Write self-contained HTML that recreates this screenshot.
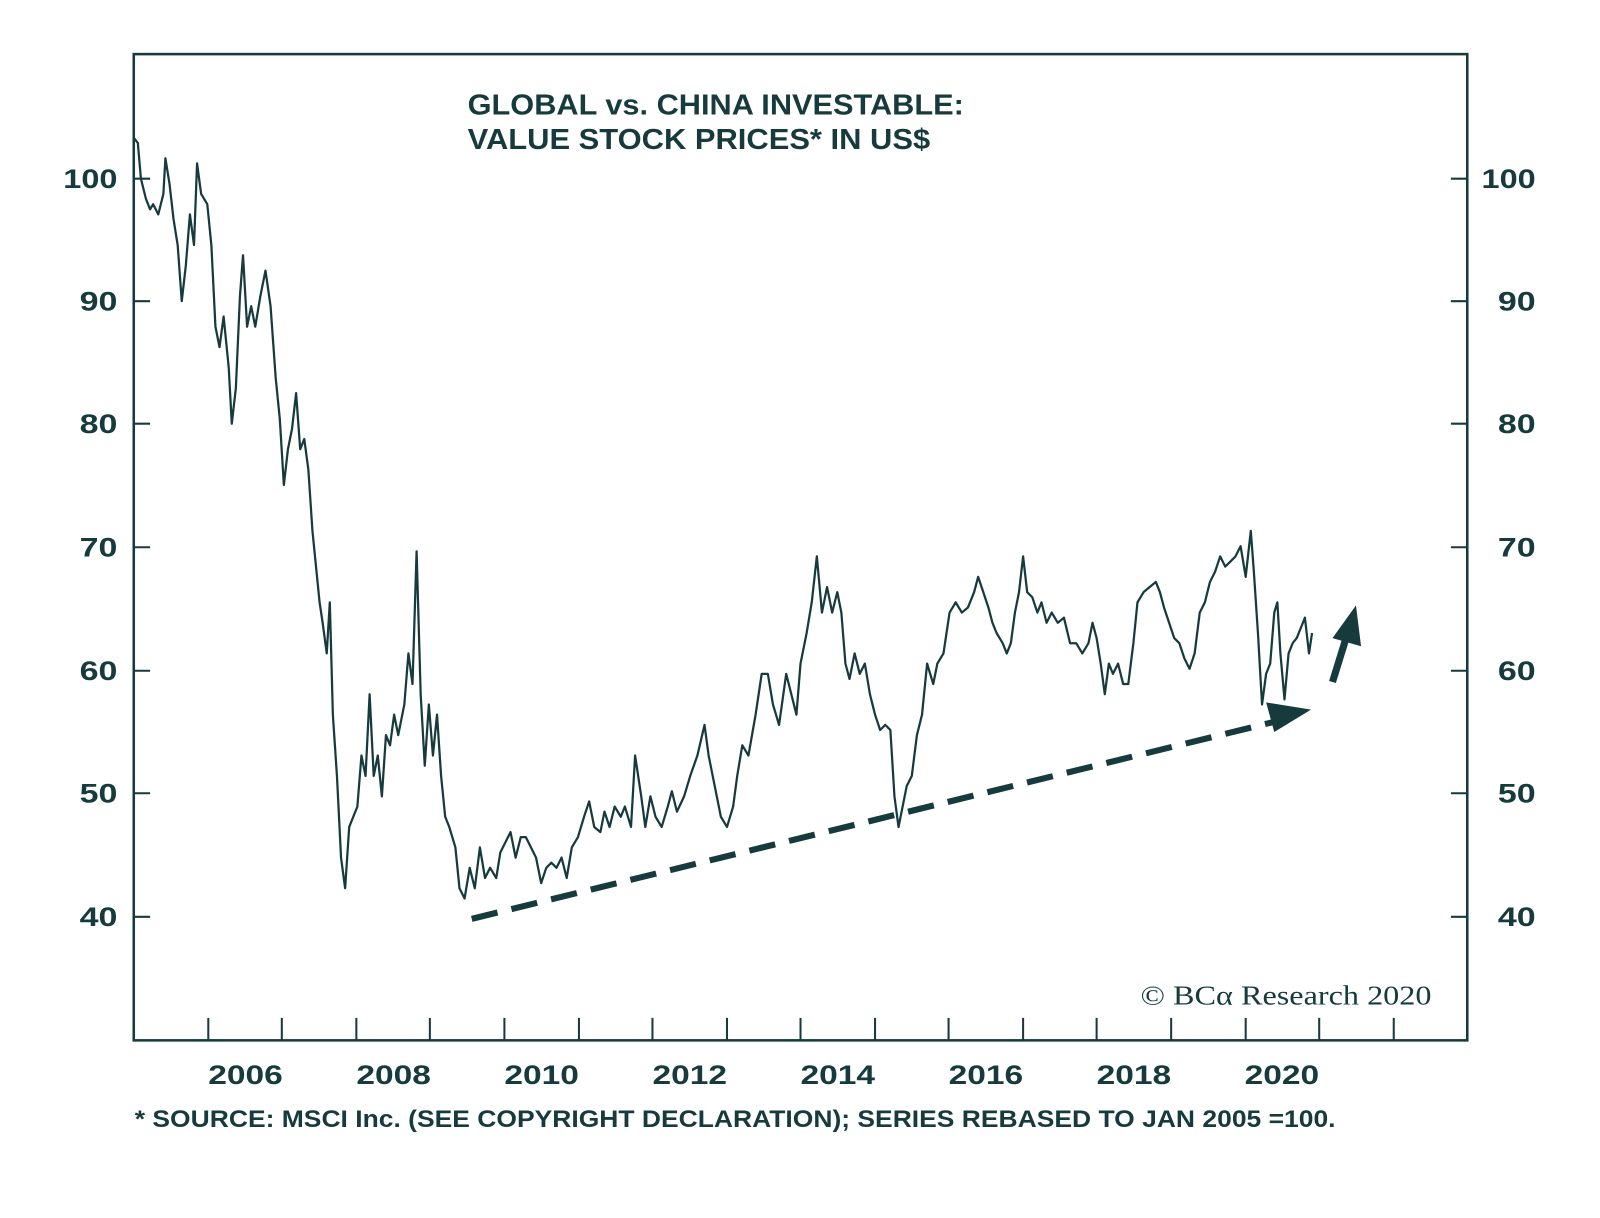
<!DOCTYPE html>
<html><head><meta charset="utf-8"><style>
html,body{margin:0;padding:0;background:#fff;}
svg{display:block;}
text{font-family:"Liberation Sans",sans-serif;fill:#173b3d;font-weight:bold;}
</style></head><body>
<svg width="1600" height="1218" viewBox="0 0 1567 1193" preserveAspectRatio="none" xmlns="http://www.w3.org/2000/svg">
<rect x="131" y="53" width="1306" height="966" fill="none" stroke="#173b3d" stroke-width="2.5"/>
<g stroke="#173b3d" stroke-width="2">
<line x1="131" y1="175" x2="147" y2="175"/><line x1="131" y1="295" x2="147" y2="295"/><line x1="131" y1="415" x2="147" y2="415"/><line x1="131" y1="536" x2="147" y2="536"/><line x1="131" y1="657" x2="147" y2="657"/><line x1="131" y1="777" x2="147" y2="777"/><line x1="131" y1="898" x2="147" y2="898"/>
<line x1="1421" y1="175" x2="1437" y2="175"/><line x1="1421" y1="295" x2="1437" y2="295"/><line x1="1421" y1="415" x2="1437" y2="415"/><line x1="1421" y1="536" x2="1437" y2="536"/><line x1="1421" y1="657" x2="1437" y2="657"/><line x1="1421" y1="777" x2="1437" y2="777"/><line x1="1421" y1="898" x2="1437" y2="898"/>
<line x1="204" y1="997" x2="204" y2="1019"/><line x1="276" y1="997" x2="276" y2="1019"/><line x1="349" y1="997" x2="349" y2="1019"/><line x1="421" y1="997" x2="421" y2="1019"/><line x1="494" y1="997" x2="494" y2="1019"/><line x1="567" y1="997" x2="567" y2="1019"/><line x1="639" y1="997" x2="639" y2="1019"/><line x1="712" y1="997" x2="712" y2="1019"/><line x1="784" y1="997" x2="784" y2="1019"/><line x1="857" y1="997" x2="857" y2="1019"/><line x1="929" y1="997" x2="929" y2="1019"/><line x1="1002" y1="997" x2="1002" y2="1019"/><line x1="1074" y1="997" x2="1074" y2="1019"/><line x1="1147" y1="997" x2="1147" y2="1019"/><line x1="1220" y1="997" x2="1220" y2="1019"/><line x1="1292" y1="997" x2="1292" y2="1019"/><line x1="1365" y1="997" x2="1365" y2="1019"/>
</g>
<g font-size="26">
<text x="62" y="184" textLength="53" lengthAdjust="spacingAndGlyphs">100</text>
<text x="78" y="304" textLength="37" lengthAdjust="spacingAndGlyphs">90</text><text x="78" y="424" textLength="37" lengthAdjust="spacingAndGlyphs">80</text><text x="78" y="545" textLength="37" lengthAdjust="spacingAndGlyphs">70</text><text x="78" y="666" textLength="37" lengthAdjust="spacingAndGlyphs">60</text><text x="78" y="786" textLength="37" lengthAdjust="spacingAndGlyphs">50</text><text x="78" y="907" textLength="37" lengthAdjust="spacingAndGlyphs">40</text>
<text x="1451" y="184" textLength="53" lengthAdjust="spacingAndGlyphs">100</text>
<text x="1467" y="304" textLength="37" lengthAdjust="spacingAndGlyphs">90</text><text x="1467" y="424" textLength="37" lengthAdjust="spacingAndGlyphs">80</text><text x="1467" y="545" textLength="37" lengthAdjust="spacingAndGlyphs">70</text><text x="1467" y="666" textLength="37" lengthAdjust="spacingAndGlyphs">60</text><text x="1467" y="786" textLength="37" lengthAdjust="spacingAndGlyphs">50</text><text x="1467" y="907" textLength="37" lengthAdjust="spacingAndGlyphs">40</text>
</g>
<g font-size="26">
<text x="204" y="1062" textLength="73" lengthAdjust="spacingAndGlyphs">2006</text><text x="349" y="1062" textLength="73" lengthAdjust="spacingAndGlyphs">2008</text><text x="494" y="1062" textLength="73" lengthAdjust="spacingAndGlyphs">2010</text><text x="639" y="1062" textLength="73" lengthAdjust="spacingAndGlyphs">2012</text><text x="784" y="1062" textLength="73" lengthAdjust="spacingAndGlyphs">2014</text><text x="929" y="1062" textLength="73" lengthAdjust="spacingAndGlyphs">2016</text><text x="1074" y="1062" textLength="73" lengthAdjust="spacingAndGlyphs">2018</text><text x="1219" y="1062" textLength="73" lengthAdjust="spacingAndGlyphs">2020</text>
</g>
<text x="132" y="1104" font-size="24" textLength="1176" lengthAdjust="spacingAndGlyphs">* SOURCE: MSCI Inc. (SEE COPYRIGHT DECLARATION); SERIES REBASED TO JAN 2005 =100.</text>
<text x="458" y="112" font-size="28" textLength="486" lengthAdjust="spacingAndGlyphs">GLOBAL vs. CHINA INVESTABLE:</text>
<text x="458" y="146" font-size="28" textLength="453" lengthAdjust="spacingAndGlyphs">VALUE STOCK PRICES* IN US$</text>
<text x="1117" y="984" font-size="27" textLength="285" lengthAdjust="spacingAndGlyphs" style="font-family:'Liberation Serif',serif;font-weight:normal">© BCα Research 2020</text>
<polyline fill="none" stroke="#173b3d" stroke-width="2.2" stroke-linejoin="round" points="131,135 135,140 138,175 143,195 147,205 150,200 155,210 160,190 162,155 166,180 170,215 174,240 178,295 182,260 186,210 190,240 193,160 197,190 203,200 207,240 211,320 215,340 219,310 224,360 227,415 231,380 235,290 238,250 242,320 246,300 250,320 255,290 260,265 265,300 270,370 274,410 278,475 282,440 286,420 290,385 294,440 298,430 302,460 306,520 310,560 313,590 316,610 320,640 323,590 326,700 330,760 334,840 338,870 342,810 346,800 350,790 354,740 358,760 362,680 366,760 370,740 374,780 378,720 382,730 386,700 390,720 396,690 400,640 404,670 408,540 412,680 416,750 420,690 424,740 428,700 432,760 436,800 440,810 446,830 450,870 455,880 460,850 465,870 470,830 475,860 480,850 486,860 490,835 495,825 500,815 505,840 510,820 515,820 520,830 525,840 530,865 535,850 540,845 545,850 550,840 555,860 560,830 566,820 572,800 577,785 582,810 588,815 592,795 597,810 602,790 608,800 612,790 618,810 622,740 628,780 632,810 637,780 642,800 648,810 654,790 658,775 663,795 670,780 676,760 683,740 690,710 694,740 700,770 706,800 712,810 718,790 722,760 727,730 733,740 740,700 746,660 752,660 757,690 763,710 770,660 775,680 780,700 784,650 790,620 795,590 800,545 805,600 810,575 815,600 820,580 824,600 828,650 832,665 837,640 842,660 847,650 852,680 857,700 862,715 867,710 872,715 876,780 880,810 884,790 888,770 893,760 898,720 903,700 908,650 914,670 918,650 924,640 930,600 936,590 942,600 948,595 954,580 958,565 963,580 968,595 972,610 976,620 982,630 986,640 990,630 994,600 998,580 1002,545 1006,580 1011,585 1016,600 1020,590 1025,610 1030,600 1036,610 1042,605 1048,630 1054,630 1060,640 1066,630 1070,610 1074,625 1078,650 1082,680 1086,650 1090,660 1095,650 1100,670 1105,670 1110,630 1114,590 1120,580 1126,575 1132,570 1136,580 1140,595 1145,610 1150,625 1155,630 1160,645 1165,655 1170,640 1175,600 1180,590 1185,570 1190,560 1195,545 1200,555 1205,550 1210,545 1215,535 1220,565 1225,520 1228,560 1232,620 1236,690 1240,660 1244,650 1248,600 1251,590 1254,640 1258,685 1262,640 1266,630 1270,625 1274,615 1278,605 1282,640 1285,620"/>
<line x1="462" y1="900" x2="1252" y2="706" stroke="#173b3d" stroke-width="6" stroke-dasharray="26,14"/>
<polygon points="1284,695 1240,688 1248,717" fill="#173b3d"/>
<line x1="1305" y1="668" x2="1318" y2="626" stroke="#173b3d" stroke-width="7"/>
<polygon points="1328,593 1305,625 1333,633" fill="#173b3d"/>
</svg>
</body></html>
